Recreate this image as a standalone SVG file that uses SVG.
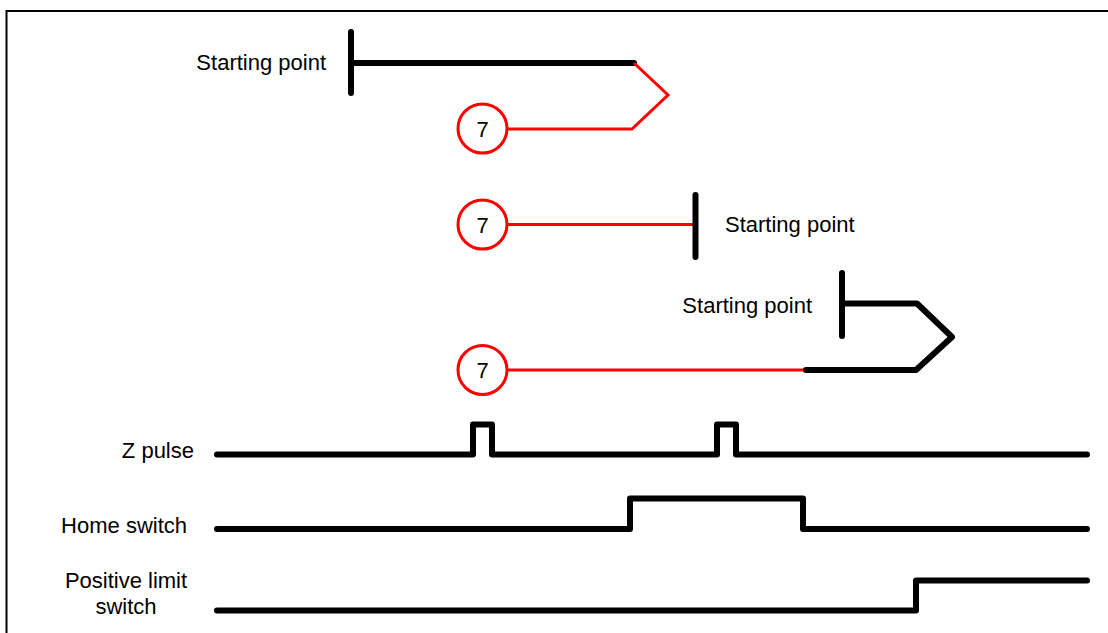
<svg xmlns="http://www.w3.org/2000/svg" width="1108" height="633" viewBox="0 0 1108 633">
<style>
.lbl{font-family:"Liberation Sans",Arial,sans-serif;font-size:22px;fill:#000}
.blk{fill:none;stroke:#000;stroke-width:6;stroke-linecap:round;stroke-linejoin:round}
.red{fill:none;stroke:#ff0000;stroke-width:3;stroke-linejoin:miter}
.circ{fill:#fff;stroke:#ff0000;stroke-width:3}
.frame{fill:none;stroke:#000;stroke-width:2}
</style>
<rect width="1108" height="633" fill="#fff"/>
<path class="frame" d="M6.5,640 V11 H1110"/>

<g id="connectors">
  <path class="blk" d="M351,63 H634"/>
  <path class="red" d="M634,63 L668,95 L632,129 H507"/>
  <path class="red" d="M507,224.5 H695"/>
  <path class="red" d="M507,370 H806"/>
  <path class="blk" d="M806,370 H916 L952,337 L917,303.5 H842"/>
  <path class="blk" d="M217,454.5 H473 V424.5 H492 V454.5 H717 V424.5 H736 V454.5 H1087"/>
  <path class="blk" d="M217,529 H630 V498.5 H803 V529 H1087"/>
  <path class="blk" d="M217,610.5 H916 V580.5 H1087"/>
</g>

<g id="start1">
  <path class="blk" d="M351,32 V93"/>
  <text class="lbl" x="326" y="70" text-anchor="end">Starting point</text>
</g>
<g id="start2">
  <path class="blk" d="M695.5,195 V257"/>
  <text class="lbl" x="725" y="232">Starting point</text>
</g>
<g id="start3">
  <path class="blk" d="M842,273 V336"/>
  <text class="lbl" x="812" y="313" text-anchor="end">Starting point</text>
</g>

<g id="step7a">
  <circle class="circ" cx="482.5" cy="128.5" r="24.5"/>
  <text class="lbl" x="482.5" y="136.5" text-anchor="middle">7</text>
</g>
<g id="step7b">
  <circle class="circ" cx="482.5" cy="224.5" r="24.5"/>
  <text class="lbl" x="482.5" y="232.5" text-anchor="middle">7</text>
</g>
<g id="step7c">
  <circle class="circ" cx="482.5" cy="370" r="24.5"/>
  <text class="lbl" x="482.5" y="378" text-anchor="middle">7</text>
</g>

<g id="zpulse">
  <text class="lbl" x="194" y="458" text-anchor="end">Z pulse</text>
</g>
<g id="homeswitch">
  <text class="lbl" x="187" y="533" text-anchor="end">Home switch</text>
</g>
<g id="poslimit">
  <text class="lbl" x="126" y="588" text-anchor="middle">Positive limit</text>
  <text class="lbl" x="126" y="614" text-anchor="middle">switch</text>
</g>
</svg>
